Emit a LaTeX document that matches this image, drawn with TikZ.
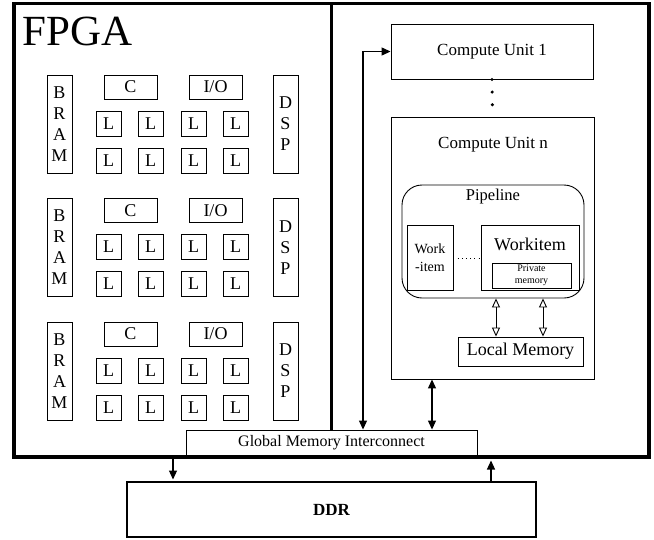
\documentclass[tikz,border=0pt]{standalone}
\usepackage{fontspec}
\setmainfont{Liberation Serif}
\usetikzlibrary{arrows.meta}
\newcommand{\fsz}[2]{\fontsize{#1}{#2}\selectfont}
\begin{document}
\begin{tikzpicture}[x=1pt,y=-1pt,
  box/.style={draw, line width=0.9pt, inner sep=0pt},
  lab/.style={inner sep=0pt},
  arr/.style={line width=1.2pt, -{Triangle[length=9pt,width=8pt]}},
  darr/.style={line width=1.2pt, {Triangle[length=9pt,width=8pt]}-{Triangle[length=9pt,width=8pt]}},
  oarr/.style={line width=0.9pt, {Triangle[open,length=9pt,width=8pt]}-{Triangle[open,length=9pt,width=8pt]}}]
\useasboundingbox (0,0) rectangle (654,539);
% FPGA frame
\node[draw, line width=3.5pt, inner sep=0pt, minimum width=635, minimum height=453.5] (fpga) at (331.5,230.25) {};
\coordinate (divtop) at (331.5,3.5);
\node[lab, anchor=base west, font=\fsz{43}{48}] (fpgalab) at (22,45) {FPGA};
% FPGA blocks
\foreach \i/\y in {0/75, 1/198.5, 2/322} {
  \node[box, minimum width=25, minimum height=98, align=center, font=\fsz{18}{21}] (bram\i) at (59.5,\y+49) {B\\R\\A\\M};
  \node[box, minimum width=25, minimum height=98, align=center, font=\fsz{18}{21}] (dsp\i) at (285.5,\y+49) {D\\S\\P};
  \node[box, minimum width=53, minimum height=24, font=\fsz{18}{21}] (c\i) at (130.5,\y+12) {C};
  \node[box, minimum width=53, minimum height=24, font=\fsz{18}{21}] (io\i) at (215.5,\y+12) {I/O};
  \foreach \j/\x in {1/108.5, 2/150.5, 3/193.5, 4/235.5} {
    \node[box, minimum width=25, minimum height=25, font=\fsz{18}{21}] (la\i\j) at (\x,\y+48.5) {L};
    \node[box, minimum width=25, minimum height=25, font=\fsz{18}{21}] (lb\i\j) at (\x,\y+85.5) {L};
  }
}
% Global memory interconnect
\node[box, minimum width=291, minimum height=25, font=\fsz{16}{19}] (gmi) at (331.5,442.5) {Global Memory Interconnect};
\draw[line width=3pt] (divtop) -- (gmi.north -| divtop);
% Compute units
\node[box, minimum width=202, minimum height=55, font=\fsz{17}{20}] (cu1) at (492,51.5) {Compute Unit 1};
\node[box, minimum width=203, minimum height=262] (cun) at (492.5,248) {};
\node[lab, font=\fsz{17}{20}] (cunlab) at (493,145) {Compute Unit n};
\draw[line width=3.4pt, line cap=round, dash pattern=on 0pt off 12.67pt] (cu1.south) -- (cun.north);
% Pipeline
\node[box, rounded corners=20pt, minimum width=182, minimum height=113] (pipe) at (493,241.5) {};
\node[lab, font=\fsz{16.5}{19}] (pipelab) at (493,197) {Pipeline};
\node[box, minimum width=46, minimum height=65, align=center, font=\fsz{14}{18}] (wi1) at (430,257.5) {Work\\-item};
\node[box, minimum width=98, minimum height=65] (wi2) at (530,257.5) {};
\node[lab, font=\fsz{18}{21}] (wi2lab) at (530,244) {Workitem};
\node[box, minimum width=79, minimum height=25, align=center, font=\fsz{10}{12}] (priv) at (531.5,275.5) {Private\\memory};
\draw[line width=0.9pt, dash pattern=on 1pt off 3.2pt] ([yshift=-0.5pt]wi1.east) -- ([yshift=-0.5pt]wi2.west);
% Local memory
\node[box, minimum width=125, minimum height=29, font=\fsz{18}{21}] (lmem) at (520.5,351.5) {Local Memory};
\coordinate (o1) at (496,0);
\coordinate (o2) at (543,0);
\draw[oarr] (pipe.south -| o1) -- (lmem.north -| o1);
\draw[oarr] (pipe.south -| o2) -- (lmem.north -| o2);
% connections to global memory
\coordinate (v1) at (363,0);
\coordinate (v2) at (432,0);
\draw[darr] (gmi.north -| v1) |- (cu1.west);
\draw[darr] (cun.south -| v2) -- (gmi.north -| v2);
% DDR
\node[draw, line width=2.5pt, inner sep=0pt, minimum width=409, minimum height=55, font=\bfseries\fsz{17}{20}] (ddr) at (331.5,509.5) {DDR};
\coordinate (d1) at (173,0);
\coordinate (d2) at (491,0);
\draw[arr] ([yshift=1.75pt]fpga.south -| d1) -- ([yshift=1.25pt]ddr.north -| d1);
\draw[arr] ([yshift=-1.25pt]ddr.north -| d2) -- ([yshift=-1.75pt]fpga.south -| d2);
\end{tikzpicture}
\end{document}
